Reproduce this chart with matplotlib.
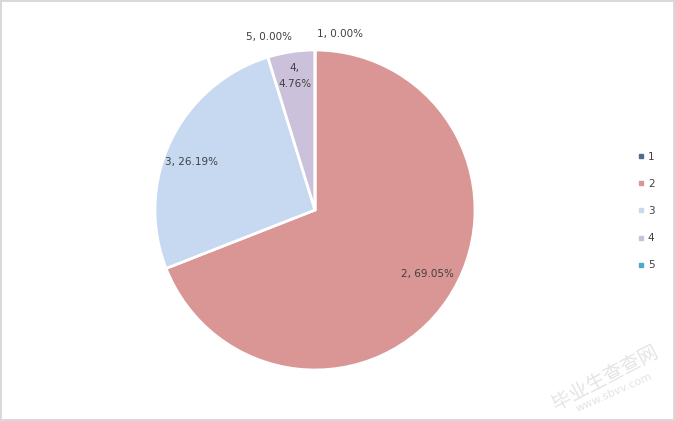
import numpy as np
import matplotlib
matplotlib.use("Agg")
import matplotlib.pyplot as plt
from matplotlib.lines import Line2D

# data
categories = ["1", "2", "3", "4", "5"]
shares = [0.00, 69.05, 26.19, 4.76, 0.00]
colors = ["#4f6d8a", "#d99694", "#c6d9f1", "#ccc1da", "#4bacc6"]
label_text = ["1, 0.00%", "2, 69.05%", "3, 26.19%", "4,\n4.76%", "5, 0.00%"]
label_dist = [1.11, 0.81, 0.83, 0.85, 1.12]
label_shift = [-8, 4.5, 4.5, 0, 15]  # degrees, keeps the zero slices apart

W, H = 675, 421
fig = plt.figure(figsize=(W / 100, H / 100), dpi=100)
fig.patch.set_facecolor("white")
fig.patch.set_edgecolor("#d9d9d9")
fig.patch.set_linewidth(1.5)

cx, cy, r = 315, 210, 160
ax = fig.add_axes([(cx - r) / W, (H - cy - r) / H, 2 * r / W, 2 * r / H])
wedges, _ = ax.pie(shares, colors=colors, startangle=90, counterclock=False,
                   wedgeprops=dict(edgecolor="white", linewidth=2))
ax.set_xlim(-1, 1)
ax.set_ylim(-1, 1)
ax.axis("off")

for w, txt, d, s in zip(wedges, label_text, label_dist, label_shift):
    mid = np.deg2rad((w.theta1 + w.theta2) / 2 + s)
    ax.text(d * np.cos(mid), d * np.sin(mid), txt, ha="center", va="center",
            fontsize=7.5, color="#404040", clip_on=False, linespacing=1.75)

handles = [Line2D([], [], marker="s", linestyle="", markersize=3.5,
                  markerfacecolor=c, markeredgecolor=c) for c in colors]
fig.legend(handles, categories, loc="center left",
           bbox_to_anchor=(628 / W, (H - 211) / H), frameon=False,
           fontsize=7.5, labelcolor="#404040", handlelength=0.6,
           handletextpad=0.4, labelspacing=1.65)

# faint watermark
fig.text(605 / W, (H - 378) / H, "毕业生查查网", rotation=28, fontsize=14,
         color="#e4e4e4", family=["Noto Sans CJK SC", "DejaVu Sans"],
         ha="center", va="center")
fig.text(614 / W, (H - 392) / H, "www.sbvv.com", rotation=24,
         fontsize=8, color="#e4e4e4", ha="center", va="center")

fig.savefig("out.png", dpi=100, facecolor=fig.get_facecolor(),
            edgecolor=fig.get_edgecolor())
